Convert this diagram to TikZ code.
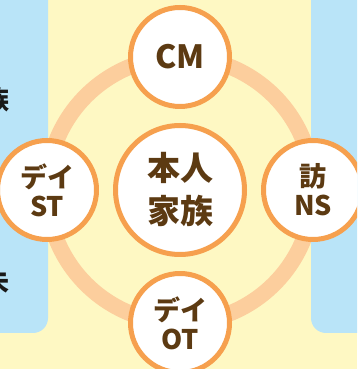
\documentclass[tikz,border=0pt]{standalone}
\usepackage{fontspec}
\newfontfamily\jpfont{Noto Sans CJK JP}
\definecolor{panelblue}{HTML}{B9E4F8}
\definecolor{paleyellow}{HTML}{FEF8C3}
\definecolor{ringorange}{HTML}{FCCE9D}
\definecolor{rimorange}{HTML}{F6A04E}
\definecolor{textbrown}{HTML}{5C3A12}
\tikzset{
  member/.style={circle, draw=rimorange, fill=white, line width=5pt, minimum size=99pt,
      inner sep=0pt, align=center, text=textbrown, font=\jpfont\bfseries\fontsize{27}{29}\selectfont},
  hub/.style={member, minimum size=129pt, font=\jpfont\bfseries\fontsize{33}{43}\selectfont},
  cutword/.style={anchor=east, inner sep=0pt, text=black!90, font=\jpfont\bfseries\fontsize{26}{26}\selectfont}
}
\newcommand{\printPanel}[2]{\fill [panelblue, rounded corners=15pt] (#1,36) rectangle (#2,400);}

\begin{document}
\begin{tikzpicture}[x=1pt,y=1pt,line join=round]
  \useasboundingbox (0,0) rectangle (357,369);
  \clip (0,0) rectangle (357,369);
  \fill [paleyellow] (0,0) rectangle (357,369);
  \printPanel{-30}{48}
  \printPanel{311}{390}
  \node [cutword] (cutA) at (10,269) {族};
  \node [cutword] (cutB) at (10,87) {未};

  \coordinate (c) at (180,179);
  \draw [ringorange, line width=16pt] (c) circle (133pt);
  \node [hub] (self) at (c) {本人\\家族};
  \foreach \name/\ang/\txt in {dayst/180/{デイ\\ST}, visitns/0/{訪\\NS}, dayot/270/{デイ\\OT}} {
      \node [member] (\name) at ([shift={(\ang:133pt)}]c) {\txt};
    }
  \node [member, font=\jpfont\bfseries\fontsize{32}{32}\selectfont] (cm) at ([shift={(90:133pt)}]c) {CM};
\end{tikzpicture}
\end{document}
